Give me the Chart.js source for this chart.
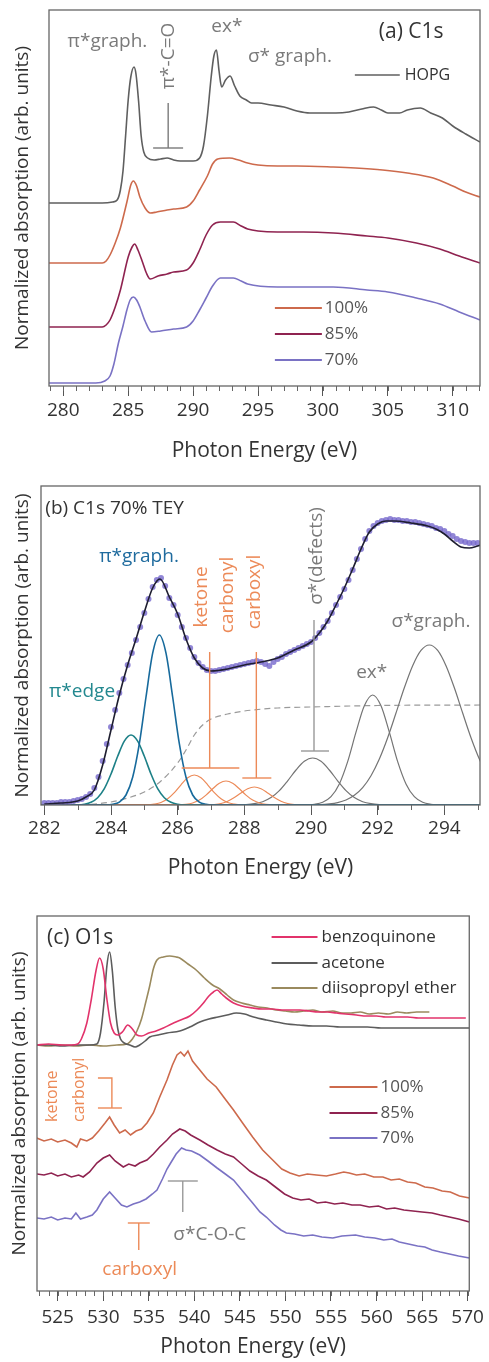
<!DOCTYPE html>
<html>
<head>
<meta charset="utf-8">
<script src="https://cdn.jsdelivr.net/npm/chart.js@4"></script>
<style>
  body { margin: 0; background: #fff; width: 489px; height: 1362px; position: relative; overflow: hidden; }
  canvas { position: absolute; left: 0; }
</style>
</head>
<body>
<canvas id="chartA" width="489" height="470" style="top:0"></canvas>
<canvas id="chartB" width="489" height="420" style="top:470px"></canvas>
<canvas id="chartC" width="489" height="472" style="top:890px"></canvas>
<script>
// ---- panel (a) C1s : [photon energy eV, offset absorption] ----
const ticksA = [280, 285, 290, 295, 300, 305, 310];
const hopg = [[278.9,183],[283,183],[283.8,184],[284.15,186],[284.4,196],[284.6,215],[284.8,250],[285,286],[285.2,309],[285.45,319],[285.6,312],[285.8,285],[286,250],[286.2,234],[286.5,228],[287,226],[287.5,227],[288,228],[288.5,226],[289,225],[290,225],[290.5,228],[290.8,240],[291.1,270],[291.4,310],[291.6,330],[291.8,336],[292,315],[292.2,299],[292.5,306],[292.85,310],[293.2,300],[293.6,290],[294.1,286],[294.5,283],[295,283],[296,281],[297,279],[298,275],[299,273],[300,273],[301,273],[302,274],[303,277],[303.9,279],[304.5,276],[305,273],[305.9,273],[306.5,276],[307.5,278],[308.3,273],[309.2,268],[310,260],[311,252],[312.1,244]];
const c100 = [[278.9,123],[283,123],[283.3,125],[283.6,131],[284,143],[284.4,158],[284.9,184],[285.2,201],[285.4,205],[285.65,200],[285.9,189],[286.3,178],[286.7,173],[287.2,174],[288,176],[288.5,177],[289.5,179],[290,185],[290.5,196],[291.1,210],[291.5,222],[291.9,227],[292.8,228],[293.5,226],[294.2,223],[295,221],[296.5,220],[298,220],[300.8,219],[302.5,218],[304.6,216],[306.5,213],[308.5,208],[310,200],[311,194],[312.1,189]];
const c85 = [[278.9,59],[283,59],[283.3,61],[283.6,66],[284,79],[284.4,96],[285,129],[285.3,139],[285.5,142],[285.75,136],[286.1,124],[286.4,113],[286.7,107],[287.3,110],[288,112],[288.5,114],[289.5,116],[290,123],[290.5,136],[291,151],[291.5,161],[292.1,164],[293.1,164],[293.7,160],[294.2,157],[295,155],[296.5,154],[298.5,154],[300.8,153],[303.4,150],[305,148],[307.2,143],[309,137],[310.5,130],[312.1,123]];
const c70 = [[278.9,3],[282.5,3],[283.2,5],[283.6,10],[283.9,22],[284.25,43],[284.6,60],[284.9,76],[285.15,86],[285.4,89],[285.65,86],[285.9,79],[286.3,65],[286.8,54],[287.5,55],[288.5,57],[289.5,59],[290,65],[290.5,76],[291,88],[291.5,100],[292.1,108],[293.1,108],[293.7,105],[294.2,102],[296.5,99],[300.8,99],[303.4,96],[305,94],[307.2,88],[309,82],[310.5,74],[312.1,66]];

// ---- panel (b) C1s 70% TEY fit ----
const ticksB = [282, 284, 286, 288, 290, 292, 294];
const measured = [[282,2],[282.125,2],[282.25,2],[282.375,2],[282.5,3],[282.625,3],[282.75,3],[282.875,4],[283,5],[283.125,6],[283.25,8],[283.375,11],[283.5,17],[283.625,28],[283.75,44],[283.875,61],[284,78],[284.125,95],[284.25,112],[284.375,126],[284.5,140],[284.625,152],[284.75,165],[284.875,178],[285,192],[285.125,206],[285.25,218],[285.375,225],[285.5,227],[285.625,219],[285.75,207],[285.875,200],[286,190],[286.125,178],[286.25,167],[286.375,157],[286.5,148],[286.625,142],[286.75,138],[286.875,135],[287,134],[287.125,134],[287.25,135],[287.375,136],[287.5,137],[287.625,138],[287.75,139],[287.875,140],[288,141],[288.125,142],[288.25,143],[288.375,144],[288.5,143],[288.625,141],[288.75,139],[288.875,143],[289,146],[289.125,148],[289.25,151],[289.375,153],[289.5,155],[289.625,157],[289.75,159],[289.875,161],[290,163],[290.125,167],[290.25,172],[290.375,178],[290.5,184],[290.625,192],[290.75,200],[290.875,208],[291,216],[291.125,225],[291.25,235],[291.375,246],[291.5,256],[291.625,266],[291.75,274],[291.875,279],[292,282],[292.125,284],[292.25,285],[292.375,286],[292.5,285],[292.625,285],[292.75,284],[292.875,284],[293,283],[293.125,283],[293.25,282],[293.375,281],[293.5,280],[293.625,279],[293.75,277],[293.875,276],[294,274],[294.125,271],[294.25,269],[294.375,266],[294.5,264],[294.625,263],[294.75,262],[294.875,262],[295,262]];
const fitTotal = [[282,1],[282.5,2],[283,4],[283.25,8],[283.5,15],[283.75,40],[284,75],[284.25,110],[284.5,140],[284.75,166],[285,193],[285.25,217],[285.47,226],[285.75,208],[286,191],[286.25,166],[286.5,147],[286.75,137],[287,134],[287.5,136],[288,140],[288.5,143],[289,147],[289.5,155],[290,163],[290.25,172],[290.5,184],[290.75,200],[291,217],[291.25,236],[291.5,256],[291.75,273],[292,281],[292.25,284],[292.5,284],[293,282],[293.5,279],[293.75,276],[294,271],[294.25,264],[294.5,258],[294.75,257],[295,259],[295.1,260]];
const piEdge = [[281.9,0],[283,0.2],[283.2,0.8],[283.4,2.7],[283.6,7.3],[283.8,16.4],[284,31],[284.2,48.7],[284.4,63.9],[284.6,70],[284.8,63.9],[285,48.7],[285.2,31],[285.4,16.4],[285.6,7.3],[285.8,2.7],[286,0.8],[286.2,0.2],[295.1,0]];
const piGraph = [[281.9,0],[283.85,0.1],[284.05,0.7],[284.25,2.9],[284.45,10],[284.65,27.7],[284.85,61.3],[285.05,108],[285.25,151.8],[285.45,170],[285.65,151.8],[285.85,108],[286.05,61.3],[286.25,27.7],[286.45,10],[286.65,2.9],[286.85,0.7],[287.05,0.1],[295.1,0]];
const ketone = [[281.9,0],[285.1,0.2],[285.3,0.9],[285.5,2.5],[285.7,6.2],[285.9,12.3],[286.1,20.2],[286.3,27.2],[286.5,30],[286.7,27.2],[286.9,20.2],[287.1,12.3],[287.3,6.2],[287.5,2.5],[287.7,0.9],[287.9,0.2],[295.1,0]];
const carbonyl = [[281.9,0],[286.05,0.2],[286.25,0.7],[286.45,2],[286.65,4.9],[286.85,9.9],[287.05,16.2],[287.25,21.7],[287.45,24],[287.65,21.7],[287.85,16.2],[288.05,9.9],[288.25,4.9],[288.45,2],[288.65,0.7],[288.85,0.2],[295.1,0]];
const carboxyl = [[281.9,0],[286.9,0.1],[287.1,0.5],[287.3,1.5],[287.5,3.7],[287.7,7.4],[287.9,12.1],[288.1,16.3],[288.3,18],[288.5,16.3],[288.7,12.1],[288.9,7.4],[289.1,3.7],[289.3,1.5],[289.5,0.5],[289.7,0.1],[295.1,0]];
const defects = [[281.9,0],[287.8,0.1],[288.05,0.4],[288.3,1.3],[288.55,3.3],[288.8,7.4],[289.05,14.4],[289.3,24.2],[289.55,35],[289.8,43.7],[290.05,47],[290.3,43.7],[290.55,35],[290.8,24.2],[291.05,14.4],[291.3,7.4],[291.55,3.3],[291.8,1.3],[292.05,0.4],[292.3,0.1],[295.1,0]];
const exciton = [[281.9,0],[289.85,0.1],[290.1,0.7],[290.35,2.7],[290.6,8.3],[290.85,21.1],[291.1,43.4],[291.35,72.8],[291.6,99.2],[291.85,110],[292.1,99.2],[292.35,72.8],[292.6,43.4],[292.85,21.1],[293.1,8.3],[293.35,2.7],[293.6,0.7],[293.85,0.1],[295.1,0]];
const sigmaGraph = [[281.9,0],[290.3,0.5],[290.55,1.1],[290.8,2.4],[291.05,5],[291.3,9.7],[291.55,17.4],[291.8,29.3],[292.05,46],[292.3,67.3],[292.55,92],[292.8,117.2],[293.05,139.3],[293.3,154.6],[293.55,160],[293.8,154.6],[294.05,139.3],[294.3,117.2],[294.55,92],[294.8,67.3],[295.05,46],[295.3,29.3]];
const edgeStep = [[281.9,0],[283,0],[283.5,1],[284,3],[284.5,7],[285,13],[285.5,24],[286,42],[286.25,55],[286.5,70],[286.75,80],[287,86],[287.5,91],[288,94],[289,97],[290,98],[292,99.5],[295.1,100]];

// ---- panel (c) O1s ----
const ticksC = [525, 530, 535, 540, 545, 550, 555, 560, 565, 570];
const benzoquinone = [[522.7,246],[524,247],[525.5,246],[526.5,246],[527.2,247],[527.6,252],[528.2,268],[528.7,292],[529.2,320],[529.6,333],[530,322],[530.4,292],[530.8,268],[531.2,258],[531.6,256],[532.1,259],[532.7,266],[533.2,262],[533.7,256],[534.2,255],[535,258],[535.8,260],[536.6,263],[537.5,267],[538.5,271],[539.5,275],[540.3,281],[541,288],[541.6,295],[542.1,299],[542.5,301],[543,297],[543.5,293],[544.3,288],[545.2,285],[546.4,283],[547.5,282],[548.5,282],[549.6,281],[550.6,281],[551.6,281],[552.6,280],[553.6,279],[554.6,279],[555.6,278],[556.6,277],[557.8,276],[558.9,275],[560,275],[561,274],[562.2,274],[563.4,274],[564.6,273],[565.8,273],[567,273],[568.2,273],[569.8,273]];
const acetone = [[522.7,246],[524,246],[525.5,245],[527,246],[528.5,246],[529.3,247],[529.7,258],[530.1,290],[530.4,325],[530.7,339],[531,320],[531.3,285],[531.6,262],[531.9,252],[532.3,248],[532.9,246],[533.5,244],[534,246],[534.6,250],[535.1,254],[536,256],[537,258],[538.4,260],[539.5,264],[540.6,269],[541.6,272],[542.6,274],[543.6,276],[544.6,278],[545.5,277],[546.5,274],[547.9,271],[549,269],[550.2,267],[551.5,266],[553,265],[554.5,265],[556,264],[557.5,264],[559,264],[560.5,263],[562,263],[564,263],[566,263],[568,263],[570.2,263]];
const diisopropyl = [[522.7,246],[524,245],[525.5,246],[527,245],[528.5,246],[530,245],[531.5,246],[532.6,247],[533.2,252],[533.7,260],[534.2,272],[534.7,290],[535.1,305],[535.5,322],[535.9,331],[536.6,334],[537.3,335],[538,334],[538.4,333],[539.3,327],[540.2,321],[541.1,313],[542,306],[542.8,302],[543.6,296],[544.3,291],[545.2,288],[546.1,286],[547,284],[548,283],[549,281],[550,280],[551,279],[552,280],[553,281],[554,279],[555.2,280],[556.2,278],[557.2,278],[558.2,279],[559.2,277],[560.2,278],[561.3,277],[562.3,279],[563.3,278],[564.4,279],[565.8,279]];
const o100 = [[522.7,153],[523.5,150],[524.3,152],[525,149],[525.8,151],[526.5,148],[527.1,144],[527.5,152],[528.2,150],[528.8,153],[529.5,160],[530.2,168],[530.7,174],[531.2,166],[531.8,158],[532.4,161],[533,156],[533.6,160],[534.2,162],[534.8,168],[535.5,178],[536.2,194],[537,211],[537.6,226],[538.1,236],[538.5,239],[538.9,235],[539.3,240],[539.8,230],[540.6,221],[541.4,212],[542.4,204],[543.3,193],[544.3,181],[545.3,168],[546.4,154],[547.5,141],[548.6,131],[549.6,122],[550.5,118],[551.5,115],[552.4,117],[553.4,116],[554.5,115],[555.5,117],[556.4,119],[557,118],[557.8,116],[558.7,117],[559.7,114],[560.7,114],[561.6,111],[562.5,112],[563.4,109],[564.3,108],[565.3,104],[566.2,103],[567.2,100],[568.1,99],[569.1,95],[570.2,93]];
const o85 = [[522.7,117],[523.5,116],[524.3,118],[525,115],[525.8,117],[526.5,114],[527.3,116],[527.8,114],[528.5,119],[529.3,128],[530,133],[530.7,136],[531.3,130],[532.2,124],[532.8,127],[533.5,125],[534,128],[534.8,131],[535.5,137],[536.2,144],[537,151],[537.6,157],[538.4,162],[539,160],[539.6,156],[540.6,151],[541.5,146],[542.5,141],[543.4,137],[544.3,134],[545.2,127],[546.1,120],[547,115],[547.9,111],[548.9,104],[549.9,97],[550.8,93],[551.7,91],[552.6,92],[553.5,88],[554.4,89],[555.4,87],[556.3,88],[557.3,86],[558.2,86],[559.2,84],[560.2,85],[561.1,82],[562,83],[563,81],[564,80],[565,79],[566.1,78],[567,76],[568,74],[569,72],[570.2,69]];
const o70 = [[522.7,73],[523.5,72],[524.3,74],[525,71],[525.8,73],[526.5,72],[527,78],[527.5,72],[528.2,74],[528.8,76],[529.3,81],[530,92],[530.7,99],[531.3,93],[532,86],[532.6,84],[533.3,87],[534,89],[534.7,92],[535.4,97],[535.9,101],[536.5,112],[537,122],[537.4,128],[538,137],[538.6,143],[539.1,141],[539.7,140],[540.6,136],[541.5,130],[542.5,123],[543.4,117],[544.3,111],[545.3,100],[546.4,88],[547.2,79],[547.9,74],[548.8,66],[549.5,61],[550.1,58],[551,57],[552,55],[553,56],[554,54],[555.2,53],[556.2,55],[557.7,56],[558.7,54],[559.8,53],[560.8,51],[561.7,52],[562.5,49],[563.5,47],[564.5,45],[565.3,44],[566.1,41],[567,39],[568,37],[569,35],[570.2,33]];

const FONT = '"Open Sans", sans-serif';
Chart.defaults.font.family = FONT;
const DARK = '#333', GREY = '#7a7a7a', ORANGE = '#ec8a58';

const toXY = arr => arr.map(([x, y]) => ({x, y}));
const line = (data, color, extra) => Object.assign({
  data: toXY(data), borderColor: color, borderWidth: 1.6, pointRadius: 0,
  fill: false, cubicInterpolationMode: 'monotone'
}, extra || {});

// frame, minor ticks and annotations (text / bracket lines) in data units
const notes = {
  id: 'notes',
  afterDraw(chart, args, opts) {
    const ctx = chart.ctx, a = chart.chartArea, xs = chart.scales.x, ys = chart.scales.y;
    ctx.save();
    ctx.strokeStyle = '#666';
    ctx.lineWidth = 1.3;
    ctx.strokeRect(a.left, a.top, a.right - a.left, a.bottom - a.top);
    ctx.beginPath();
    ctx.lineWidth = 1;
    for (let v = Math.ceil(xs.min); v <= xs.max; v += 1) {
      const p = Math.round(xs.getPixelForValue(v)) + 0.5;
      ctx.moveTo(p, a.bottom);
      ctx.lineTo(p, a.bottom + 5);
    }
    ctx.stroke();
    for (const it of opts.items) {
      if (it.pts) {
        ctx.strokeStyle = it.c;
        ctx.lineWidth = it.w || 1.4;
        ctx.beginPath();
        it.pts.forEach(([x, y], i) => {
          const px = xs.getPixelForValue(x), py = ys.getPixelForValue(y);
          i ? ctx.lineTo(px, py) : ctx.moveTo(px, py);
        });
        ctx.stroke();
      } else {
        ctx.fillStyle = it.c;
        ctx.font = (it.f || 19) + 'px ' + FONT;
        ctx.textAlign = it.al || 'center';
        ctx.textBaseline = 'middle';
        ctx.save();
        ctx.translate(xs.getPixelForValue(it.x), ys.getPixelForValue(it.y));
        if (it.rot) ctx.rotate(-Math.PI / 2);
        ctx.fillText(it.s, 0, 0);
        ctx.restore();
      }
    }
    ctx.restore();
  }
};

function makeChart(id, datasets, cfg) {
  return new Chart(document.getElementById(id), {
    type: 'line',
    data: { datasets },
    plugins: [notes],
    options: {
      responsive: false,
      animation: false,
      layout: { padding: { top: cfg.top, right: cfg.right, left: 0, bottom: 0 } },
      plugins: { legend: { display: false }, tooltip: { enabled: false }, notes: { items: cfg.items } },
      scales: {
        x: {
          type: 'linear', min: cfg.xmin, max: cfg.xmax,
          afterBuildTicks: s => { s.ticks = cfg.ticks.map(v => ({value: v})); },
          afterFit: s => { s.height = cfg.xh; },
          ticks: { color: DARK, font: { size: 19 }, padding: cfg.tickPad, maxRotation: 0, autoSkip: false },
          grid: { drawOnChartArea: false, drawTicks: true, tickLength: 10, color: '#555', lineWidth: 1 },
          border: { display: false },
          title: { display: true, text: 'Photon Energy (eV)', color: DARK, font: { size: 21 }, padding: { top: 0, bottom: cfg.titlePad } }
        },
        y: {
          min: 0, max: cfg.ymax,
          afterFit: s => { s.width = cfg.yw; },
          ticks: { display: false },
          grid: { display: false, drawTicks: false },
          border: { display: false },
          title: { display: true, text: 'Normalized absorption (arb. units)', color: DARK, font: { size: 19 }, padding: { top: cfg.yTitlePad, bottom: 0 } }
        }
      }
    }
  });
}

// (a)
makeChart('chartA', [
  line(hopg, '#5f5f5f'),
  line(c100, '#cd6a4c'),
  line(c85, '#8f2350'),
  line(c70, '#7a72c4')
], {
  top: 10, right: 9, xh: 84, yw: 49, xmin: 278.9, xmax: 312.1, ymax: 376, ticks: ticksA,
  tickPad: 3, titlePad: 6, yTitlePad: 11,
  items: [
    { s: 'π*graph.', x: 283.4, y: 344, c: GREY },
    { s: 'π*-C=O', x: 288.08, y: 330, c: GREY, rot: true },
    { pts: [[288.08, 283], [288.08, 238]], c: GREY },
    { pts: [[286.92, 238], [289.23, 238]], c: GREY },
    { s: 'ex*', x: 292.6, y: 359, c: GREY },
    { s: 'σ* graph.', x: 297.46, y: 329, c: GREY },
    { s: '(a) C1s', x: 306.8, y: 354, c: DARK, f: 21 },
    { pts: [[302.46, 311], [305.92, 311]], c: '#5f5f5f', w: 1.6 },
    { s: 'HOPG', x: 306.3, y: 311, c: DARK, f: 16, al: 'left' },
    { pts: [[296.3, 78], [299.92, 78]], c: '#cd6a4c', w: 2 },
    { pts: [[296.3, 52], [299.92, 52]], c: '#8f2350', w: 2 },
    { pts: [[296.3, 26], [299.92, 26]], c: '#7a72c4', w: 2 },
    { s: '100%', x: 300.15, y: 78, c: '#555', f: 17, al: 'left' },
    { s: '85%', x: 300.15, y: 52, c: '#555', f: 17, al: 'left' },
    { s: '70%', x: 300.15, y: 26, c: '#555', f: 17, al: 'left' }
  ]
});

// (b)
makeChart('chartB', [
  line(fitTotal, '#1e1e30', { borderWidth: 1.6 }),
  { data: toXY(measured), showLine: false, pointRadius: 3, pointBorderWidth: 0, pointBackgroundColor: 'rgba(118,104,204,0.8)' },
  line(piGraph, '#176a9c'),
  line(piEdge, '#1d8087'),
  line(ketone, ORANGE, { borderWidth: 1.2 }),
  line(carbonyl, ORANGE, { borderWidth: 1.2 }),
  line(carboxyl, ORANGE, { borderWidth: 1.2 }),
  line(defects, '#747474', { borderWidth: 1.2 }),
  line(exciton, '#747474', { borderWidth: 1.2 }),
  line(sigmaGraph, '#747474', { borderWidth: 1.2 }),
  line(edgeStep, '#9a9a9a', { borderWidth: 1.2, borderDash: [6, 4] })
], {
  top: 16, right: 9, xh: 85, yw: 41, xmin: 281.9, xmax: 295.07, ymax: 319, ticks: ticksB,
  tickPad: 2, titlePad: 9, yTitlePad: 11,
  items: [
    { s: '(b) C1s 70% TEY', x: 282.03, y: 296, c: DARK, f: 19, al: 'left' },
    { s: 'π*graph.', x: 284.84, y: 248, c: '#1f6b9e' },
    { s: 'π*edge', x: 283.13, y: 113, c: '#23888f' },
    { s: 'ketone', x: 286.72, y: 208, c: ORANGE, rot: true },
    { s: 'carbonyl', x: 287.49, y: 210, c: ORANGE, rot: true },
    { s: 'carboxyl', x: 288.3, y: 213, c: ORANGE, rot: true },
    { pts: [[286.96, 153], [286.96, 37]], c: ORANGE },
    { pts: [[286.12, 37], [287.85, 37]], c: ORANGE },
    { pts: [[288.36, 153], [288.36, 27]], c: ORANGE },
    { pts: [[287.94, 27], [288.81, 27]], c: ORANGE },
    { s: 'σ*(defects)', x: 290.18, y: 249, c: GREY, rot: true },
    { pts: [[290.09, 185], [290.09, 54]], c: '#999' },
    { pts: [[289.7, 54], [290.54, 54]], c: '#999' },
    { s: 'ex*', x: 291.82, y: 132, c: GREY },
    { s: 'σ*graph.', x: 293.6, y: 183, c: GREY }
  ]
});

// (c)
makeChart('chartC', [
  line(benzoquinone, '#e2336b'),
  line(acetone, '#5c5c5c'),
  line(diisopropyl, '#9a8a5e'),
  line(o100, '#cd6a4c', { cubicInterpolationMode: 'default', tension: 0 }),
  line(o85, '#8f2350', { cubicInterpolationMode: 'default', tension: 0 }),
  line(o70, '#7a72c4', { cubicInterpolationMode: 'default', tension: 0 })
], {
  top: 26, right: 19, xh: 71, yw: 37, xmin: 522.73, xmax: 570.18, ymax: 375, ticks: ticksC,
  tickPad: 5, titlePad: 2, yTitlePad: 8,
  items: [
    { s: '(c) O1s', x: 523.83, y: 353, c: DARK, f: 21, al: 'left' },
    { pts: [[548.48, 354], [553.52, 354]], c: '#e2336b', w: 2 },
    { pts: [[548.48, 328], [553.52, 328]], c: '#5c5c5c', w: 2 },
    { pts: [[548.48, 303], [553.52, 303]], c: '#9a8a5e', w: 2 },
    { s: 'benzoquinone', x: 553.96, y: 354, c: DARK, f: 17, al: 'left' },
    { s: 'acetone', x: 553.96, y: 328, c: DARK, f: 17, al: 'left' },
    { s: 'diisopropyl ether', x: 553.96, y: 303, c: DARK, f: 17, al: 'left' },
    { pts: [[554.84, 204], [560.1, 204]], c: '#cd6a4c', w: 2 },
    { pts: [[554.84, 178], [560.1, 178]], c: '#8f2350', w: 2 },
    { pts: [[554.84, 153], [560.1, 153]], c: '#7a72c4', w: 2 },
    { s: '100%', x: 560.43, y: 204, c: '#555', f: 17, al: 'left' },
    { s: '85%', x: 560.43, y: 178, c: '#555', f: 17, al: 'left' },
    { s: '70%', x: 560.43, y: 153, c: '#555', f: 17, al: 'left' },
    { s: 'ketone', x: 524.38, y: 169, c: ORANGE, rot: true, al: 'left', f: 16 },
    { s: 'carbonyl', x: 527.44, y: 169, c: ORANGE, rot: true, al: 'left', f: 16 },
    { pts: [[529.42, 213], [530.95, 213], [530.95, 183]], c: ORANGE },
    { pts: [[529.42, 183], [532.05, 183]], c: ORANGE },
    { pts: [[537.09, 110], [540.38, 110]], c: '#999' },
    { pts: [[538.73, 110], [538.73, 79]], c: '#999' },
    { s: 'σ*C-O-C', x: 541.7, y: 56, c: GREY },
    { pts: [[532.7, 68], [535.11, 68]], c: ORANGE },
    { pts: [[533.9, 68], [533.9, 41]], c: ORANGE },
    { s: 'carboxyl', x: 534.0, y: 21, c: ORANGE }
  ]
});
</script>
</body>
</html>
